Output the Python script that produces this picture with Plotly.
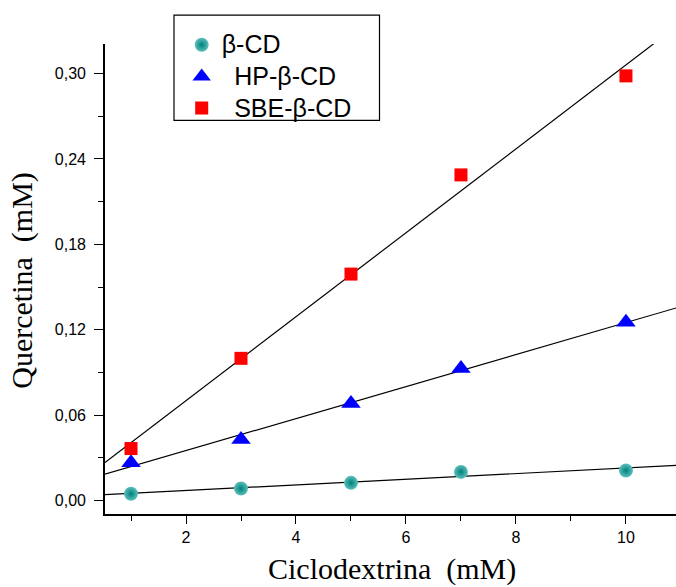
import numpy as np
import plotly.graph_objects as go

# ---- data ----
ciclodextrina = [1, 3, 5, 7, 10]
beta_cd = [0.0047, 0.0084, 0.0124, 0.0201, 0.0211]
hp_beta_cd = [0.0265, 0.0428, 0.0681, 0.0927, 0.1252]
sbe_beta_cd = [0.0365, 0.0999, 0.1591, 0.2288, 0.2984]

series_names = ["β-CD", "\u2002HP-β-CD", "\u2002SBE-β-CD"]
y_ticks = [0.00, 0.06, 0.12, 0.18, 0.24, 0.30]
x_ticks = [2, 4, 6, 8, 10]
x_range = [0.527, 10.91]
y_range = [-0.0095, 0.3208]

W, H = 676, 587
L, R, T, B = 105, 0, 44, 72.5
pw, ph = W - L - R, H - T - B


def px_x(p):
    return (p - L) / pw


def px_y(p):
    return (H - B - p) / ph


def legend_label(s):
    return '<span style="font-size:25px">' + s + '</span>'


fig = go.Figure()

# regression lines (computed from the data)
line_x = np.array([0.0, 12.0])
for ys in (beta_cd, hp_beta_cd, sbe_beta_cd):
    k, b = np.polyfit(ciclodextrina, ys, 1)
    fig.add_trace(go.Scatter(x=line_x, y=k * line_x + b, mode="lines",
                             line=dict(color="black", width=1.2),
                             showlegend=False, hoverinfo="skip"))

fig.add_trace(go.Scatter(
    x=ciclodextrina, y=beta_cd, mode="markers", name=legend_label(series_names[0]),
    marker=dict(symbol="circle", size=14, color="#5cc0bc",
                gradient=dict(type="radial", color="#00807b"),
                line=dict(width=0))))
fig.add_trace(go.Scatter(
    x=ciclodextrina, y=hp_beta_cd, mode="markers", name=legend_label(series_names[1]),
    marker=dict(symbol="triangle-up", size=17, color="#0000ff",
                line=dict(width=0))))
fig.add_trace(go.Scatter(
    x=ciclodextrina, y=sbe_beta_cd, mode="markers", name=legend_label(series_names[2]),
    marker=dict(symbol="square", size=13, color="#ff0000",
                line=dict(width=0))))

axis_common = dict(showline=True, linecolor="black", linewidth=1.6,
                   ticks="outside", tickcolor="black", tickwidth=1.4,
                   showgrid=False, zeroline=False, mirror=False,
                   tickfont=dict(family="Liberation Sans, Arial", size=16, color="black"))

fig.update_xaxes(range=x_range, tickmode="array", tickvals=x_ticks,
                 ticklen=8, minor=dict(ticks="outside", ticklen=5, dtick=1,
                                       tick0=1, tickcolor="black", tickwidth=1.4),
                 **axis_common)
fig.update_yaxes(range=y_range, tickmode="array", tickvals=y_ticks,
                 tickformat=".2f", ticklen=9, ticklabelstandoff=5,
                 minor=dict(ticks="outside", ticklen=5, dtick=0.03, tick0=0.03,
                            tickcolor="black", tickwidth=1.4),
                 **axis_common)

title_font = dict(family="Liberation Serif, Times New Roman", size=30, color="black")
fig.add_annotation(text="Ciclodextrina\u2002(mM)", xref="paper", yref="paper",
                   x=px_x(392), y=px_y(570), xanchor="center", yanchor="middle",
                   showarrow=False, font=title_font)
fig.add_annotation(text="Quercetina\u2002(mM)", xref="paper", yref="paper",
                   x=px_x(22), y=px_y(281), xanchor="center", yanchor="middle",
                   textangle=-90, showarrow=False, font=title_font)

# legend frame
fig.add_shape(type="rect", xref="paper", yref="paper",
              x0=px_x(174), x1=px_x(379.5), y0=px_y(120.5), y1=px_y(15),
              line=dict(color="black", width=1.2), fillcolor="rgba(0,0,0,0)")

fig.update_layout(
    width=W, height=H,
    margin=dict(l=L, r=R, t=T, b=B, pad=0),
    paper_bgcolor="white", plot_bgcolor="white",
    separators=",.",
    showlegend=True,
    legend=dict(x=px_x(181.7), y=px_y(24), xanchor="left", yanchor="top",
                bgcolor="rgba(0,0,0,0)", borderwidth=0,
                font=dict(family="Liberation Sans, Arial", size=22, color="black"),
                tracegroupgap=0, itemsizing="trace"),
)

fig.write_html("out.html",
               config={"displayModeBar": False},
               post_script="document.body.style.margin='0px';"
                           "document.body.style.overflow='hidden';")
